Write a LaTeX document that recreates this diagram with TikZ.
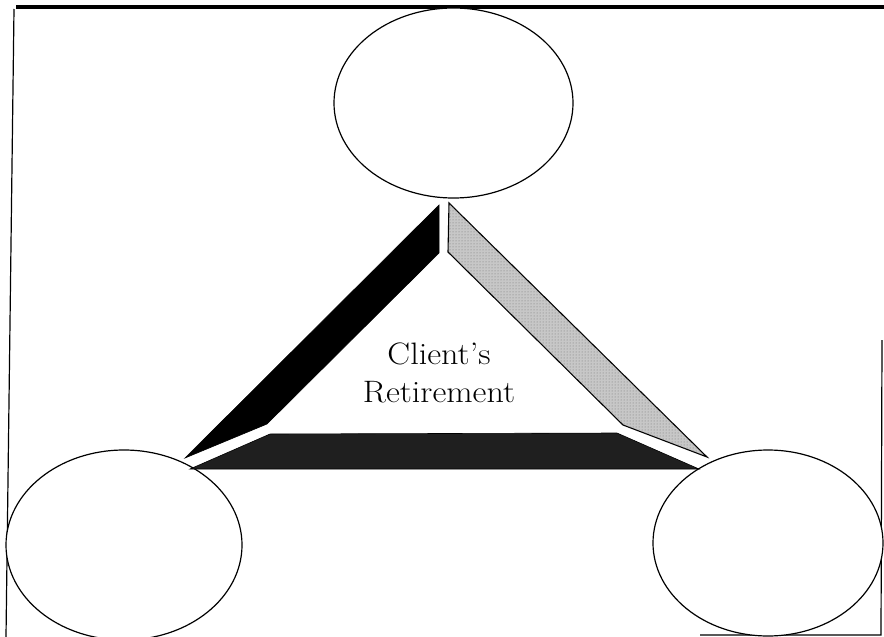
\documentclass[tikz,border=0pt]{standalone}
\usetikzlibrary{shapes.geometric,patterns}
\begin{document}
\begin{tikzpicture}[x=1pt,y=-1pt,
  bubble/.style={draw=black,line width=1.2pt,ellipse,fill=white,inner sep=0pt},
  frameline/.style={draw=black,line width=1.2pt},
  darkband/.style={fill=black,draw=black,line width=0.6pt},
  dotband/.style={fill=black!22,draw=black,line width=1.1pt},
  speckband/.style={fill=black!88,draw=black,line width=0.6pt},
  label/.style={align=center,font=\fontsize{31}{38}\selectfont,inner sep=0pt}]
\useasboundingbox (0,0) rectangle (884,637);
\fill[white] (0,0) rectangle (884,637);
% frame
\coordinate (ftl) at (16,7);
\coordinate (ftr) at (884,7);
\coordinate (fl1) at (14,9);
\coordinate (fl2) at (6,637);
\coordinate (fr1) at (882,340);
\coordinate (fr2) at (881,635);
\coordinate (fb1) at (700,635);
\draw[frameline,line width=3.4pt] (ftl) -- (ftr);
\draw[frameline] (fl1) -- (fl2);
\draw[frameline] (fr1) -- (fr2) -- (fb1);
% ellipses
\node[bubble,minimum width=239pt,minimum height=190pt] (top) at (453.5,103) {};
\node[bubble,minimum width=236pt,minimum height=190pt] (left) at (124,545) {};
\node[bubble,minimum width=230pt,minimum height=186pt] (right) at (768,543) {};
% bands
\coordinate (a1) at (439,205);
\coordinate (a2) at (439,253);
\coordinate (a3) at (267,424);
\coordinate (a4) at (185,458);
\path[darkband] (a1) -- (a2) -- (a3) -- (a4) -- cycle;
\coordinate (b1) at (449,203);
\coordinate (b2) at (448,252);
\coordinate (b3) at (623,425);
\coordinate (b4) at (707,457);
\path[dotband] (b1) -- (b2) -- (b3) -- (b4) -- cycle;
\path[pattern=dots,pattern color=black!55] (b1) -- (b2) -- (b3) -- (b4) -- cycle;
\coordinate (c1) at (270,434);
\coordinate (c2) at (617,433);
\coordinate (c3) at (699,469);
\coordinate (c4) at (190,469);
\path[speckband] (c1) -- (c2) -- (c3) -- (c4) -- cycle;
% text
\node[label] (txt) at (439,373) {\scalebox{1.1}[1]{Client's}\\\scalebox{1.1}[1]{Retirement}};
\end{tikzpicture}
\end{document}
